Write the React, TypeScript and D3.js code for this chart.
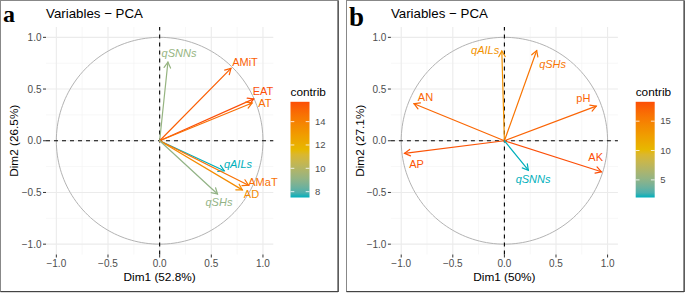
import React from "react";
import * as d3 from "d3";

// Panel a data
const A_VARS = ["qSNNs", "AMiT", "EAT", "AT", "qAILs", "AMaT", "AD", "qSHs"];
const A_DIM1 = [0.08, 0.69, 0.91, 0.895, 0.625, 0.86, 0.8, 0.56];
const A_DIM2 = [0.76, 0.7, 0.405, 0.365, -0.29, -0.43, -0.475, -0.515];
const A_CONTRIB = [9.2, 15.2, 15.7, 14.7, 7.5, 14.6, 13.6, 9.1];
const A_LABEL_X = [0.187, 0.826, 1.0, 1.019, 0.758, 1.0, 0.889, 0.574];
const A_LABEL_Y = [0.846, 0.759, 0.484, 0.362, -0.228, -0.396, -0.518, -0.589];
const A_LEGEND_TICKS = [8, 10, 12, 14];

// Panel b data
const B_VARS = ["qAILs", "qSHs", "AN", "pH", "AP", "AK", "qSNNs"];
const B_DIM1 = [-0.025, 0.313, -0.876, 0.89, -0.968, 0.94, 0.232];
const B_DIM2 = [0.868, 0.872, 0.358, 0.335, -0.122, -0.3, -0.285];
const B_CONTRIB = [13.5, 15.8, 16.8, 17.0, 18.0, 18.3, 2.0];
const B_LABEL_X = [-0.187, 0.467, -0.765, 0.765, -0.852, 0.885, 0.278];
const B_LABEL_Y = [0.875, 0.742, 0.426, 0.41, -0.225, -0.154, -0.37];
const B_LEGEND_TICKS = [5, 10, 15];

const AXIS_TICKS = [-1, -0.5, 0, 0.5, 1];
const MINOR_TICKS = [-0.75, -0.25, 0.25, 0.75];
const GRAD = ["#00AFBB", "#E7B800", "#FC4E07"];

const FONT = "'Liberation Sans', Arial, Helvetica, sans-serif";

const fmt = (v: number) => (v < 0 ? "\u2212" : "") + Math.abs(v).toFixed(1);

type PanelProps = {
  ox: number;
  letter: string;
  letterY: number;
  letterSize: number;
  vars: string[];
  d1: number[];
  d2: number[];
  contrib: number[];
  lx: number[];
  ly: number[];
  legendTicks: number[];
  xTitle: string;
  yTitle: string;
  plotLeft: number;
  plotRight: number;
  legendX: number;
};

function Panel(p: PanelProps) {
  const x = d3.scaleLinear().domain([-1.1, 1.1]).range([p.plotLeft, p.plotRight]);
  const y = d3.scaleLinear().domain([-1.1, 1.1]).range([254.5, 27]);
  const ext = d3.extent(p.contrib) as [number, number];
  const color = d3
    .scaleLinear<string>()
    .domain([ext[0], (ext[0] + ext[1]) / 2, ext[1]])
    .range(GRAD)
    .interpolate(d3.interpolateLab);

  const barTop = 101.8;
  const barBot = 197.5;
  const barW = 19;
  const ly = d3.scaleLinear().domain(ext).range([barBot, barTop]);
  const gradId = "grad" + p.letter;

  const circle = d3.range(0, 361, 2).map((a) => [
    x(Math.cos((a * Math.PI) / 180)),
    y(Math.sin((a * Math.PI) / 180)),
  ]);
  const circlePath = d3.line()(circle as [number, number][]) || "";

  const stops = d3.range(0, 1.0001, 0.05);

  return (
    <g>
      <rect x={p.ox + 0.5} y={0.5} width={337.5} height={291} fill="#fff" stroke="#888" strokeWidth={1} />
      <rect x={p.ox + 0.5} y={291} width={337.5} height={1.2} fill="#444" />
      <rect x={p.ox + 337.6} y={0.5} width={1.2} height={291.5} fill="#444" />
      <defs>
        <linearGradient id={gradId} x1="0" y1="1" x2="0" y2="0">
          {stops.map((s) => (
            <stop key={s} offset={s} stopColor={color(ext[0] + s * (ext[1] - ext[0]))} />
          ))}
        </linearGradient>
      </defs>
      {/* grid */}
      {MINOR_TICKS.map((t) => (
        <g key={"m" + t}>
          <line x1={x(t)} x2={x(t)} y1={y(-1.1)} y2={y(1.1)} stroke="#F2F2F2" strokeWidth={0.6} />
          <line x1={x(-1.1)} x2={x(1.1)} y1={y(t)} y2={y(t)} stroke="#F2F2F2" strokeWidth={0.6} />
        </g>
      ))}
      {AXIS_TICKS.map((t) => (
        <g key={"M" + t}>
          <line x1={x(t)} x2={x(t)} y1={y(-1.1)} y2={y(1.1)} stroke="#EBEBEB" strokeWidth={1.1} />
          <line x1={x(-1.1)} x2={x(1.1)} y1={y(t)} y2={y(t)} stroke="#EBEBEB" strokeWidth={1.1} />
        </g>
      ))}
      {/* circle */}
      <path d={circlePath} fill="none" stroke="#B3B3B3" strokeWidth={1} />
      {/* dashed axes */}
      <line x1={x(-1.1)} x2={x(1.1)} y1={y(0)} y2={y(0)} stroke="#000" strokeWidth={1.1} strokeDasharray="4,4" />
      <line x1={x(0)} x2={x(0)} y1={y(-1.1)} y2={y(1.1)} stroke="#000" strokeWidth={1.1} strokeDasharray="4,4" />
      {/* ticks */}
      {AXIS_TICKS.map((t) => (
        <g key={"t" + t} fontFamily={FONT} fontSize={10} fill="#4D4D4D">
          <line x1={p.plotLeft - 3} x2={p.plotLeft} y1={y(t)} y2={y(t)} stroke="#333" strokeWidth={1} />
          <text x={p.plotLeft - 4.5} y={y(t)} dy="0.35em" textAnchor="end">
            {fmt(t)}
          </text>
          <line x1={x(t)} x2={x(t)} y1={254.5} y2={257.5} stroke="#333" strokeWidth={1} />
          <text x={x(t)} y={266.5} textAnchor="middle">
            {fmt(t)}
          </text>
        </g>
      ))}
      {/* arrows */}
      {p.vars.map((v, i) => {
        const x0 = x(0);
        const y0 = y(0);
        const x1 = x(p.d1[i]);
        const y1 = y(p.d2[i]);
        const ang = Math.atan2(y1 - y0, x1 - x0);
        const L = 6.5;
        const a1 = ang + Math.PI - Math.PI / 6;
        const a2 = ang + Math.PI + Math.PI / 6;
        const c = color(p.contrib[i]);
        return (
          <g key={v} stroke={c} strokeWidth={1.2} fill="none" strokeLinecap="round">
            <line x1={x0} y1={y0} x2={x1} y2={y1} />
            <polyline
              points={`${x1 + L * Math.cos(a1)},${y1 + L * Math.sin(a1)} ${x1},${y1} ${x1 + L * Math.cos(a2)},${y1 + L * Math.sin(a2)}`}
            />
          </g>
        );
      })}
      {p.vars.map((v, i) => (
        <text
          key={"l" + v}
          x={x(p.lx[i])}
          y={y(p.ly[i])}
          dy="0.35em"
          textAnchor="middle"
          fontFamily={FONT}
          fontSize={11}
          fontStyle={v.startsWith("q") ? "italic" : "normal"}
          fill={color(p.contrib[i])}
        >
          {v}
        </text>
      ))}
      {/* axis titles */}
      <text x={x(0)} y={280.5} textAnchor="middle" fontFamily={FONT} fontSize={11.8} fill="#000">
        {p.xTitle}
      </text>
      <text
        transform={`translate(${p.ox + 13.5},${y(0)}) rotate(-90)`}
        dy="0.35em"
        textAnchor="middle"
        fontFamily={FONT}
        fontSize={11.8}
        fill="#000"
      >
        {p.yTitle}
      </text>
      <text x={p.plotLeft} y={18} fontFamily={FONT} fontSize={13.3} fill="#000">
        Variables {"\u2212"} PCA
      </text>
      <text
        x={p.ox + 3}
        y={p.letterY}
        fontFamily="'Liberation Serif', 'DejaVu Serif', serif"
        fontWeight="bold"
        fontSize={p.letterSize}
        fill="#000"
      >
        {p.letter}
      </text>
      {/* legend */}
      <text x={p.legendX} y={91.7} dy="0.35em" fontFamily={FONT} fontSize={11.8} fill="#000">
        contrib
      </text>
      <rect x={p.legendX} y={barTop} width={barW} height={barBot - barTop} fill={`url(#${gradId})`} />
      {p.legendTicks.map((t) => (
        <g key={"lt" + t}>
          <line x1={p.legendX} x2={p.legendX + 3.8} y1={ly(t)} y2={ly(t)} stroke="#fff" strokeWidth={0.8} />
          <line x1={p.legendX + barW - 3.8} x2={p.legendX + barW} y1={ly(t)} y2={ly(t)} stroke="#fff" strokeWidth={0.8} />
          <text x={p.legendX + barW + 5.5} y={ly(t)} dy="0.35em" fontFamily={FONT} fontSize={9.5} fill="#4D4D4D">
            {t}
          </text>
        </g>
      ))}
    </g>
  );
}

export default function App() {
  return (
    <div style={{ position: "absolute", left: 0, top: 0 }}>
      <svg width={685} height={293} style={{ display: "block" }}>
        <rect width={685} height={293} fill="#fff" />
        <Panel
          ox={0}
          letter="a"
          letterY={21.5}
          letterSize={24}
          vars={A_VARS}
          d1={A_DIM1}
          d2={A_DIM2}
          contrib={A_CONTRIB}
          lx={A_LABEL_X}
          ly={A_LABEL_Y}
          legendTicks={A_LEGEND_TICKS}
          xTitle="Dim1 (52.8%)"
          yTitle="Dim2 (26.5%)"
          plotLeft={46}
          plotRight={273.3}
          legendX={290.5}
        />
        <Panel
          ox={346}
          letter="b"
          letterY={25.5}
          letterSize={27}
          vars={B_VARS}
          d1={B_DIM1}
          d2={B_DIM2}
          contrib={B_CONTRIB}
          lx={B_LABEL_X}
          ly={B_LABEL_Y}
          legendTicks={B_LEGEND_TICKS}
          xTitle="Dim1 (50%)"
          yTitle="Dim2 (27.1%)"
          plotLeft={390.9}
          plotRight={617.9}
          legendX={635.7}
        />
      </svg>
    </div>
  );
}
